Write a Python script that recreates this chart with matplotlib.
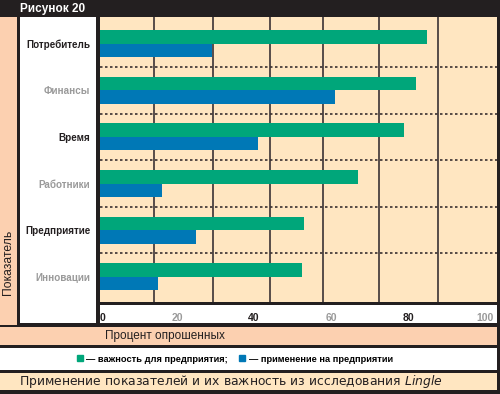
"""
Рисунок 20: применение показателей и их важность (Lingle).
"""
import matplotlib
matplotlib.use('Agg')
import matplotlib.pyplot as plt
from matplotlib.patches import Rectangle
from matplotlib.lines import Line2D

plt.rcParams['font.family'] = ['Liberation Sans', 'DejaVu Sans']

# data (percent of respondents)
categories = ['Потребитель', 'Финансы', 'Время', 'Работники', 'Предприятие', 'Инновации']
importance = [85, 82, 79, 67, 53, 52.5]
usage = [29, 61, 41, 16, 25, 15]
xticks = [0, 20, 40, 60, 80, 100]
# vertical rules of the original do not sit on the ticks
grid_x = [14, 29.4, 44.2, 57.9, 72.5, 87.8]

GREEN = '#00A67A'
BLUE = '#0078B6'
DARK = '#231F20'
PEACH = '#FCD0B0'
BEIGE = '#FFE6C1'
GREY = '#9A9A9A'

W, H = 500, 394


def box(fig, x0, y0, x1, y1, color):
    # rectangle in pixels, origin at top-left
    fig.add_artist(Rectangle((x0 / W, 1 - y1 / H), (x1 - x0) / W, (y1 - y0) / H,
                             transform=fig.transFigure, facecolor=color,
                             edgecolor='none', zorder=0))


fig = plt.figure(figsize=(5, 3.94), dpi=100, facecolor=DARK)

box(fig, 0, 17, 17, 325, PEACH)
box(fig, 20, 17, 96, 323, 'white')
box(fig, 100, 305, 497, 323, 'white')
box(fig, 0, 327, 497, 345, PEACH)
box(fig, 0, 348, 497, 370, 'white')
box(fig, 0, 373, 497, 390, BEIGE)

ax = fig.add_axes([100 / W, 1 - 302 / H, 397 / W, 285 / H])
ax.set_facecolor(BEIGE)
for s in ax.spines.values():
    s.set_visible(False)

y = list(range(len(categories)))
h = 0.29
ax.barh([v - h / 2 for v in y], importance, height=h, color=GREEN, zorder=3)
ax.barh([v + h / 2 for v in y], usage, height=h, color=BLUE, zorder=3)

for gx in grid_x:
    ax.axvline(gx, color='#4A4040', lw=1.3, zorder=1)
for v in y[:-1]:
    ax.axhline(v + 0.5, color='#3A3030', lw=1.2, ls=(0, (1.5, 1.5)), zorder=2)

ax.set_xlim(0, 103.1)
ax.set_ylim(5.54, -0.57)

ax.set_yticks(y)
ax.set_yticklabels(categories, fontsize=7.1, fontweight='bold')
for i, t in enumerate(ax.get_yticklabels()):
    t.set_color(DARK if i % 2 == 0 else GREY)

ax.set_xticks(xticks)
ax.set_xticklabels([str(v) for v in xticks], fontsize=7.5, fontweight='bold')
for i, t in enumerate(ax.get_xticklabels()):
    t.set_color(DARK if i % 2 == 0 else GREY)
ax.get_xticklabels()[0].set_ha('left')
ax.tick_params(axis='both', length=0)
ax.tick_params(axis='x', pad=8)
ax.tick_params(axis='y', pad=7)

# texts around the chart
fig.text(20 / W, 1 - 9 / H, 'Рисунок 20', color='white', fontsize=8.5,
         fontweight='bold', ha='left', va='center')
fig.text(8.5 / W, 1 - 262 / H, 'Показатель', rotation=90, color=DARK,
         fontsize=8.7, ha='center', va='center')
fig.text(165 / W, 1 - 336.5 / H, 'Процент опрошенных', color=DARK,
         fontsize=8.5, ha='center', va='center')
fig.text(231 / W, 1 - 381.5 / H,
         r'Применение показателей и их важность из исследования $\it{Lingle}$',
         color=DARK, fontsize=8.9, ha='center', va='center', family='DejaVu Sans')

handles = [Line2D([], [], marker='s', ls='none', color=GREEN, markersize=4.5),
           Line2D([], [], marker='s', ls='none', color=BLUE, markersize=4.5)]
fig.legend(handles, ['— важность для предприятия;', '— применение на предприятии'],
           loc='center', bbox_to_anchor=(234 / W, 1 - 359 / H), ncol=2,
           frameon=False, prop={'size': 6.7, 'weight': 'bold'},
           handletextpad=0.2, columnspacing=1.0, handlelength=1.0)

fig.savefig('out.png', dpi=100, facecolor=DARK)
